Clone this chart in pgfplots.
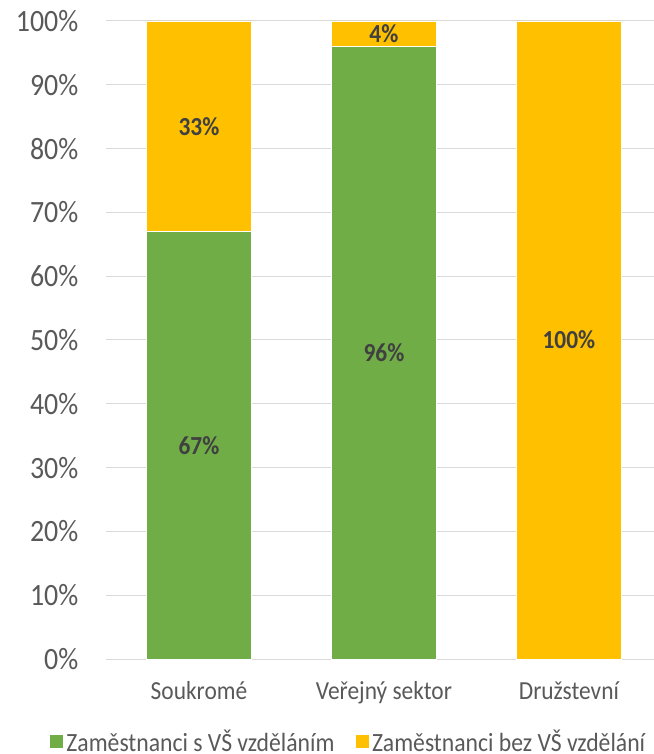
\documentclass[border=0pt]{standalone}
\usepackage{fontspec}
\setmainfont{Carlito}[FakeStretch=0.9]
\usepackage{pgfplots}
\pgfplotsset{compat=1.18}
\definecolor{vsgreen}{HTML}{70AD47}
\definecolor{vsgold}{HTML}{FFC000}
\definecolor{gridgray}{HTML}{D9D9D9}
\definecolor{ticktext}{HTML}{595959}
\definecolor{labeltext}{HTML}{404040}
\pgfplotsset{
  common/.style={
    scale only axis,
    width=547.5pt, height=638pt,
    xmin=-0.5, xmax=2.46,
    ymin=0, ymax=100,
  }
}
\begin{document}
\begin{tikzpicture}
\begin{axis}[
  common,
  name=main,
  ybar stacked,
  bar width=105pt,
  axis line style={draw=none},
  major tick length=0pt,
  ymajorgrids,
  major grid style={gridgray, line width=1pt},
  ytick={0,10,...,100},
  yticklabel={\pgfmathprintnumber{\tick}\%},
  /pgf/number format/assume math mode=true,
  yticklabel style={anchor=east, inner xsep=0pt, xshift=-28pt, font=\fontsize{31}{36}\selectfont, text=ticktext},
  xtick={0,1,2},
  xticklabels={Soukromé, Veřejný sektor, Družstevní},
  xticklabel style={anchor=base, inner sep=0pt, yshift=-40pt, font=\fontsize{26}{30}\selectfont, text=ticktext},
  legend columns=-1,
  legend style={draw=none, fill=none, inner sep=0pt, outer sep=0pt,
    at={(-0.1023,-0.1290)}, anchor=west,
    font=\fontsize{26.3}{30}\selectfont, text=ticktext,
    /tikz/every even column/.append style={column sep=18.5pt},
    nodes={inner xsep=3pt, inner ysep=0pt}},
  legend image code/.code={\fill[#1, draw=none] (0pt,-6.5pt) rectangle (13pt,6.5pt);},
]
\addplot[fill=vsgreen, draw=white, line width=0.75pt] coordinates {(0,67) (1,96) (2,0)};
\addplot[fill=vsgold, draw=white, line width=0.75pt] coordinates {(0,33) (1,4) (2,100)};
\legend{Zaměstnanci s VŠ vzděláním, Zaměstnanci bez VŠ vzdělání}
\end{axis}
\begin{axis}[
  common,
  hide axis,
]
\addplot[draw=none, mark=none, nodes near coords={\pgfplotspointmeta}, point meta=explicit symbolic,
  every node near coord/.style={anchor=center, font=\fontsize{26}{30}\selectfont\bfseries, text=labeltext}]
  coordinates {(0,33.5) [67\%] (0,83.5) [33\%] (1,48) [96\%] (1,98) [4\%] (2,50) [100\%]};
\end{axis}
\pgfresetboundingbox
\path[use as bounding box] ([shift={(-106.5pt,-95pt)}]main.south west) rectangle ([shift={(0pt,21pt)}]main.north east);
\end{tikzpicture}
\end{document}
